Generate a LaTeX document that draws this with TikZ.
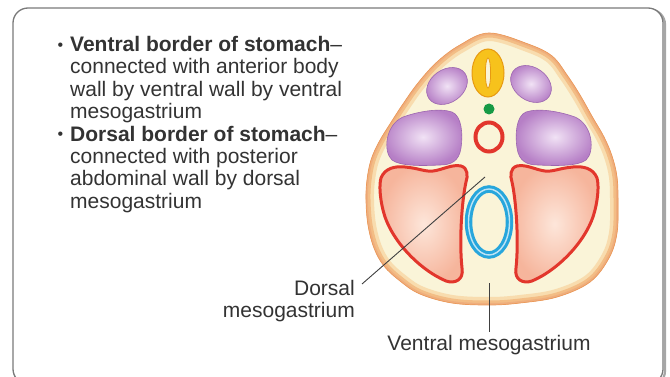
\documentclass[tikz,border=0pt]{standalone}
\usepackage{fontspec}
\setmainfont{Liberation Sans}
\definecolor{textgray}{HTML}{333333}
\definecolor{framegray}{HTML}{7A7A7A}
\definecolor{rimOut}{HTML}{EB9A5C}
\definecolor{rimMid}{HTML}{F3BD85}
\definecolor{rimLight}{HTML}{F8DCAE}
\definecolor{cream}{HTML}{FAF4D8}
\definecolor{purpleDark}{HTML}{B67FC6}
\definecolor{purpleLight}{HTML}{F1E2F5}
\definecolor{purpleEdge}{HTML}{9C66B0}
\definecolor{salmonOut}{HTML}{F6B59C}
\definecolor{salmonIn}{HTML}{FDE6DA}
\definecolor{redLine}{HTML}{E2362C}
\definecolor{yellowFill}{HTML}{F7C21C}
\definecolor{yellowEdge}{HTML}{E79A12}
\definecolor{greenDot}{HTML}{169A45}
\definecolor{blueRing}{HTML}{27A6DC}
% outline of the body section
\newcommand\bodyoutline{plot[smooth cycle, tension=0.6] coordinates {
  (489,33) (528,44) (552,56) (567,75) (580,95) (593,118) (604,137)
  (612,156) (617,177) (618,202) (617,233) (609,258) (590,282)
  (557,297) (520,303) (489,305) (452,303) (420,294) (400,281)
  (384,266) (374,248) (368,225) (366,200) (367,180) (371,160)
  (379,142) (390,124) (403,104) (418,83) (437,62) (460,45)}}
% left lobe, mirrored for the right one
\newcommand\lobeoutline{(381,178)
  .. controls (385,168) and (395,166) .. (405,167)
  .. controls (418,168) and (425,172) .. (433,171)
  .. controls (442,170) and (452,164) .. (461,166)
  .. controls (468,168) and (468,176) .. (466,182)
  .. controls (462,200) and (459,240) .. (462,268)
  .. controls (464,280) and (455,284) .. (446,281)
  .. controls (420,270) and (390,240) .. (383,210)
  .. controls (380,198) and (379,185) .. (381,178) -- cycle}
% lower purple blob (left), mirrored for the right one
\newcommand\blobpath{(403,117)
  .. controls (420,111) and (440,108) .. (452,112)
  .. controls (462,116) and (463,135) .. (461,148)
  .. controls (459,162) and (450,165) .. (440,165)
  .. controls (420,166) and (400,166) .. (392,160)
  .. controls (383,152) and (385,125) .. (403,117) -- cycle}
\newcommand\smallbullet{\llap{\raisebox{1.2pt}{\fontsize{16}{16}\selectfont\textbullet}\hspace{7pt}}}
\begin{document}
\begin{tikzpicture}[x=1pt,y=-1pt,
  txt/.style={text=textgray, inner sep=0pt, font=\fontsize{21}{22.4}\selectfont},
  leader/.style={draw=black!75, line width=0.9pt},
  purpleorgan/.style={inner color=purpleLight, outer color=purpleDark, draw=purpleEdge, line width=0.6pt},
  lobe/.style={inner color=salmonIn, outer color=salmonOut, draw=redLine, line width=3pt}]
\useasboundingbox (0,0) rectangle (670,377);

% frame with a soft shadow
\draw[black!35, line width=2.2pt, rounded corners=15pt] (14.5,9.5) rectangle (665,386);
\draw[framegray, line width=1.3pt, fill=white, rounded corners=15pt] (13,8) rectangle (663,384);

% body section with its orange rim
\fill[cream] \bodyoutline;
\begin{scope}
  \clip \bodyoutline;
  \draw[rimLight, line width=16pt] \bodyoutline;
  \draw[rimMid, line width=9pt] \bodyoutline;
  \draw[rimOut!80, line width=4pt] \bodyoutline;
\end{scope}
\draw[rimOut, line width=0.7pt] \bodyoutline;

% lobes
\shade[lobe] \lobeoutline;
\begin{scope}[shift={(978,0)}, xscale=-1]
  \shade[lobe] \lobeoutline;
\end{scope}

% lower purple blobs
\shade[purpleorgan] \blobpath;
\begin{scope}[shift={(978,0)}, xscale=-1]
  \shade[purpleorgan] \blobpath;
\end{scope}

% upper purple ellipses
\shade[purpleorgan, rotate around={35:(447,86)}] (447,86) ellipse [x radius=22pt, y radius=16.5pt];
\shade[purpleorgan, rotate around={-35:(531,84)}] (531,84) ellipse [x radius=22pt, y radius=16.5pt];

% neural tube
\filldraw[fill=yellowFill, draw=yellowEdge, line width=1pt] (488,73) ellipse [x radius=16pt, y radius=24pt];
\filldraw[fill=cream, draw=yellowEdge, line width=0.8pt] (488,73) ellipse [x radius=2.6pt, y radius=15pt];

% green dot and red ring
\fill[greenDot] (489,109) circle [radius=5.5pt];
\draw[redLine, line width=4pt] (489,137) ellipse [x radius=13.5pt, y radius=14.5pt];

% stomach (blue double ring)
\draw[blueRing, line width=7.5pt] (489,222) ellipse [x radius=20.5pt, y radius=33pt];
\draw[white!70!blueRing, line width=1.4pt] (489,222) ellipse [x radius=20.5pt, y radius=33pt];

% text
\node[txt, anchor=north west, align=left] (item1) at (70,36)
  {\smallbullet\textbf{Ventral border of stomach}–\\
   connected with anterior body\\
   wall by ventral wall by ventral\\
   mesogastrium};
\node[txt, anchor=north west, align=left] (item2) at (70,125.6)
  {\smallbullet\textbf{Dorsal border of stomach}–\\
   connected with posterior\\
   abdominal wall by dorsal\\
   mesogastrium};

% labels and leaders
\coordinate (dorsalpt) at (485,177);
\node[txt, anchor=north east, align=right] (dlabel) at (355,280) {Dorsal\\mesogastrium};
\draw[leader] (dorsalpt) -- ([shift={(7,4)}]dlabel.north east);

\coordinate (ventralpt) at (489,283);
\node[txt, anchor=north] (vlabel) at (489,335) {Ventral mesogastrium};
\draw[leader] (ventralpt) -- ([yshift=3pt]vlabel.north);
\end{tikzpicture}
\end{document}
